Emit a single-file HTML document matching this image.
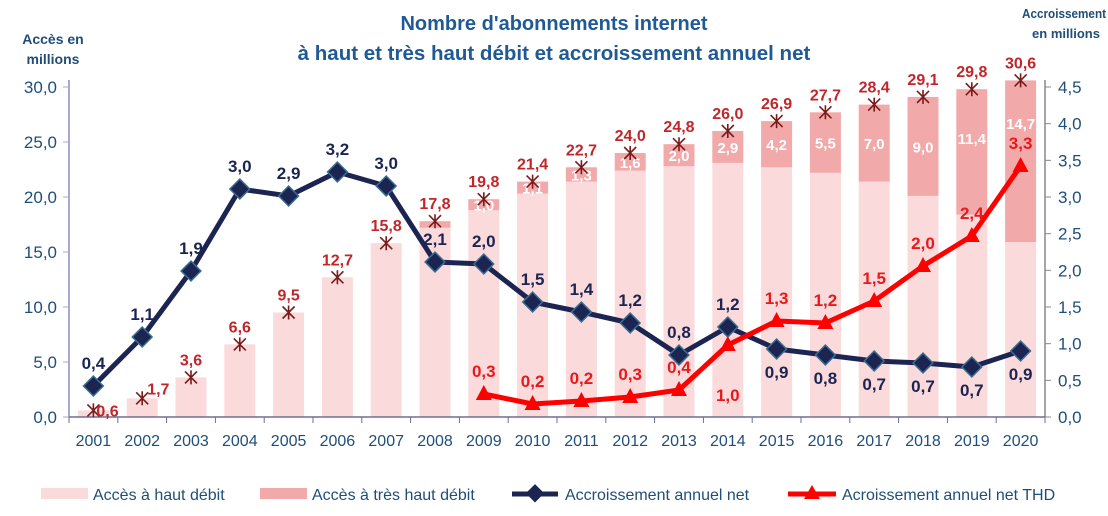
<!DOCTYPE html>
<html><head><meta charset="utf-8"><style>
body{margin:0;background:#fff}
svg{display:block;font-family:"Liberation Sans",sans-serif}
</style></head><body>
<svg width="1108" height="516" viewBox="0 0 1108 516" xmlns="http://www.w3.org/2000/svg">
<g id="c"></g>
</svg>
<script>
const ns="http://www.w3.org/2000/svg",g=document.getElementById('c');
function el(t,a,txt){const e=document.createElementNS(ns,t);for(const k in a)e.setAttribute(k,a[k]);if(txt!==undefined)e.textContent=txt;g.appendChild(e);return e;}
const X0=69,W=48.8,Y0=417,L=11,R=73.33;
const cx=i=>X0+W/2+W*i, yl=v=>Y0-v*L;
const tot=[0.6,1.7,3.6,6.6,9.5,12.7,15.8,17.8,19.8,21.4,22.7,24.0,24.8,26.0,26.9,27.7,28.4,29.1,29.8,30.6];
const thd=[0,0,0,0,0,0,0,0.6,1.0,1.1,1.3,1.6,2.0,2.9,4.2,5.5,7.0,9.0,11.4,14.7];
const blue=[0.4,1.1,1.9,3.0,2.9,3.2,3.0,2.1,2.0,1.5,1.4,1.2,0.8,1.2,0.9,0.8,0.7,0.7,0.7,0.9];
const bY=[386,337,271,189,196,172,186,262,264,302,312,323,355,327,349,355,361,363,367,351];
const red=[0.3,0.2,0.2,0.3,0.4,1.0,1.3,1.2,1.5,2.0,2.4,3.3];
const rY=[394,404,401,397,390,345,321,323,301,266,236,166];
const f=v=>v.toFixed(1).replace('.',',');
el('text',{x:554,y:30,'text-anchor':'middle','font-size':20,'font-weight':'bold',fill:'#1f5a96'},"Nombre d'abonnements internet");
el('text',{x:554,y:60,'text-anchor':'middle','font-size':20.5,'font-weight':'bold',fill:'#1f5a96'},"à haut et très haut débit et accroissement annuel net");
el('text',{x:53,y:44,'text-anchor':'middle','font-size':14,'font-weight':'bold',fill:'#1f4e79'},"Accès en");
el('text',{x:53,y:64,'text-anchor':'middle','font-size':14,'font-weight':'bold',fill:'#1f4e79'},"millions");
el('text',{x:1022,y:18,'font-size':12.5,'font-weight':'bold',fill:'#1f4e79',textLength:84,lengthAdjust:'spacingAndGlyphs'},"Accroissement");
el('text',{x:1066,y:38,'text-anchor':'middle','font-size':13,'font-weight':'bold',fill:'#1f4e79'},"en millions");
for(let i=0;i<20;i++){const bw=31,x=cx(i)-bw/2;const hd=tot[i]-thd[i];
el('rect',{x:x,y:yl(hd),width:bw,height:hd*L,fill:'#fadadb'});
if(thd[i]>0)el('rect',{x:x,y:yl(tot[i]),width:bw,height:thd[i]*L,fill:'#f2a9aa'});
let ty=yl(tot[i]-thd[i]/2)+6; if(i==18)ty=144; if(i==19)ty=129;
if(thd[i]>=0.9)el('text',{x:cx(i),y:ty,'text-anchor':'middle','font-size':15,'font-weight':'bold',fill:'#fff'},f(thd[i]));
}
el('line',{x1:X0,y1:80,x2:X0,y2:Y0,stroke:'#a8a8c8','stroke-width':2});
el('line',{x1:1045,y1:80,x2:1045,y2:Y0,stroke:'#888','stroke-width':1.5});
el('line',{x1:X0,y1:Y0,x2:1045,y2:Y0,stroke:'#6e6e96','stroke-width':1.5});
for(let k=0;k<=6;k++){const y=yl(k*5);el('line',{x1:X0-6,y1:y,x2:X0,y2:y,stroke:'#a8a8c8'});
el('text',{x:57,y:y+6,'text-anchor':'end','font-size':17,fill:'#1f4e79'},f(k*5));}
for(let k=0;k<=9;k++){const y=Y0-k*0.5*R;el('line',{x1:1045,y1:y,x2:1051,y2:y,stroke:'#888'});
el('text',{x:1058,y:y+6,'font-size':17,fill:'#1f4e79'},f(k*0.5));}
for(let i=0;i<=20;i++)el('line',{x1:X0+W*i,y1:Y0,x2:X0+W*i,y2:Y0+6,stroke:'#6e6e96'});
for(let i=0;i<20;i++)el('text',{x:cx(i),y:446,'text-anchor':'middle','font-size':16,fill:'#1f4e79'},2001+i);
for(let i=0;i<20;i++){const x=cx(i),y=yl(tot[i]);
el('path',{d:`M${x-6} ${y-6}L${x+6} ${y+6}M${x-6} ${y+6}L${x+6} ${y-6}M${x} ${y-7}L${x} ${y+7}`,stroke:'#7a1a1a','stroke-width':1.6});
let lx=x,ly=y-12,anc='middle';if(i==0){lx=x+3;ly=y+6;anc='start'}if(i==1){lx=x+5;ly=y-4;anc='start'}
el('text',{x:lx,y:ly,'text-anchor':anc,'font-size':16,'font-weight':'bold',fill:'#c0262a'},f(tot[i]));}
el('polyline',{points:bY.map((y,i)=>cx(i)+','+y).join(' '),fill:'none',stroke:'#1c2452','stroke-width':5,'stroke-linejoin':'round'});
blue.forEach((v,i)=>{const x=cx(i),y=bY[i];el('rect',{x:x-7,y:y-7,width:14,height:14,fill:'#1c2452',stroke:'#3b6e8e','stroke-width':1.5,transform:`rotate(45 ${x} ${y})`});
const below=(i>=14);el('text',{x:x,y:below?y+29:y-17,'text-anchor':'middle','font-size':17,'font-weight':'bold',fill:'#1c2452'},f(v));});
el('polyline',{points:rY.map((y,i)=>cx(i+8)+','+y).join(' '),fill:'none',stroke:'#ff0000','stroke-width':5,'stroke-linejoin':'round'});
red.forEach((v,i)=>{const x=cx(i+8),y=rY[i];el('path',{d:`M${x} ${y-9}L${x+8} ${y+6}L${x-8} ${y+6}Z`,fill:'#ff0000'});
const ly=(i==5)?y+56:y-17;
el('text',{x:x,y:ly,'text-anchor':'middle','font-size':17,'font-weight':'bold',fill:'#e8191c'},f(v));});
el('rect',{x:41,y:488,width:47,height:11,fill:'#fadadb'});
el('text',{x:93,y:500,'font-size':16,fill:'#1f4e79'},"Accès à haut débit");
el('rect',{x:260,y:488,width:47,height:11,fill:'#f2a9aa'});
el('text',{x:312,y:500,'font-size':16,fill:'#1f4e79'},"Accès à très haut débit");
el('line',{x1:512,y1:494,x2:558,y2:494,stroke:'#1c2452','stroke-width':5});
el('rect',{x:528,y:487,width:13,height:13,fill:'#1c2452',transform:'rotate(45 535 494)'});
el('text',{x:565,y:500,'font-size':16,fill:'#1f4e79'},"Accroissement annuel net");
el('line',{x1:788,y1:494,x2:836,y2:494,stroke:'#ff0000','stroke-width':5});
el('path',{d:'M812 485L820 499L804 499Z',fill:'#ff0000'});
el('text',{x:842,y:500,'font-size':16,fill:'#1f4e79'},"Acroissement annuel net THD");
</script>
</body></html>
